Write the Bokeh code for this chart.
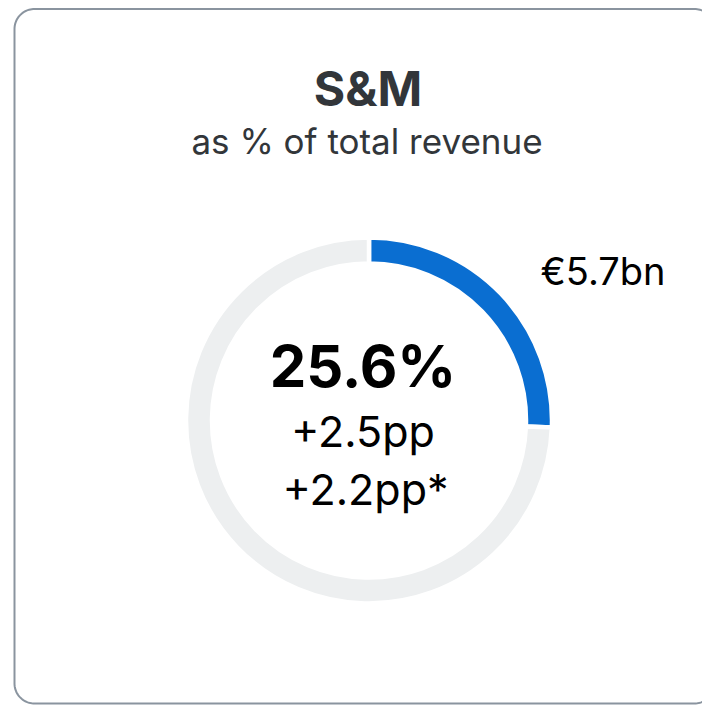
import numpy as np
from bokeh.plotting import figure
from bokeh.models import Range1d, ColumnDataSource
from bokeh.core.properties import value
from bokeh.embed import file_html
from bokeh.resources import INLINE

# ---- data ----
title = "S&M"
subtitle = "as % of total revenue"
segments = ["S&M", "Rest"]
shares = [25.6, 74.4]
colors = ["#0a6ed1", "#edeff0"]
center_main = "25.6%"
center_lines = ["+2.5pp", "+2.2pp*"]
amount_label = "€5.7bn"

W, H = 702, 705
FONT = "Inter"

p = figure(width=W, height=H, output_backend="svg", toolbar_location=None,
           x_range=Range1d(0, W), y_range=Range1d(0, H), min_border=0)
p.axis.visible = False
p.grid.visible = False
p.outline_line_color = None
p.background_fill_color = "white"
p.border_fill_color = "white"

# card with rounded corners
def rounded_rect(x0, y0, x1, y1, r, n=24):
    xs, ys = [], []
    corners = [(x1 - r, y1 - r, 0, 90), (x0 + r, y1 - r, 90, 180),
               (x0 + r, y0 + r, 180, 270), (x1 - r, y0 + r, 270, 360)]
    for cx, cy, a0, a1 in corners:
        t = np.radians(np.linspace(a0, a1, n))
        xs += list(cx + r * np.cos(t))
        ys += list(cy + r * np.sin(t))
    return xs, ys

cx_, cy_ = rounded_rect(14, 2, 714, 696.5, 20)
p.patch(cx_, cy_, fill_color="white", line_color="#8a949f", line_width=2)

# donut
cx, cy = 368.5, 285
r_out, r_in = 183, 157
fr = np.array(shares) / sum(shares)
ends = np.pi / 2 - 2 * np.pi * np.cumsum(fr)
starts = np.concatenate([[np.pi / 2], ends[:-1]])
src = ColumnDataSource(dict(start=ends, end=starts, color=colors, seg=segments))
p.annular_wedge(x=cx, y=cy, inner_radius=r_in, outer_radius=r_out,
                start_angle="start", end_angle="end", fill_color="color",
                line_color="white", line_width=4.5, source=src)

# texts
p.text(x=[367.5], y=[617], text=[title], text_font=value(FONT), text_font_size="48px",
       text_font_style="bold", text_color="#32363a", text_align="center",
       text_baseline="alphabetic")
p.text(x=[366.5], y=[565], text=[subtitle], text_font=value(FONT), text_font_size="35px",
       text_color="#32363a", text_align="center", text_baseline="alphabetic")
p.text(x=[362.5], y=[340], text=[center_main], text_font=value(FONT), text_font_size="58px",
       text_font_style="bold", text_color="black", text_align="center",
       text_baseline="alphabetic")
p.text(x=[362.5, 365], y=[275, 217], text=center_lines, text_font=value(FONT),
       text_font_size="43px", text_color="black", text_align="center",
       text_baseline="alphabetic")
p.text(x=[540], y=[435], text=[amount_label], text_font=value(FONT), text_font_size="38px",
       text_color="black", text_align="left", text_baseline="alphabetic")

open("out.html", "w").write(file_html(p, INLINE))
